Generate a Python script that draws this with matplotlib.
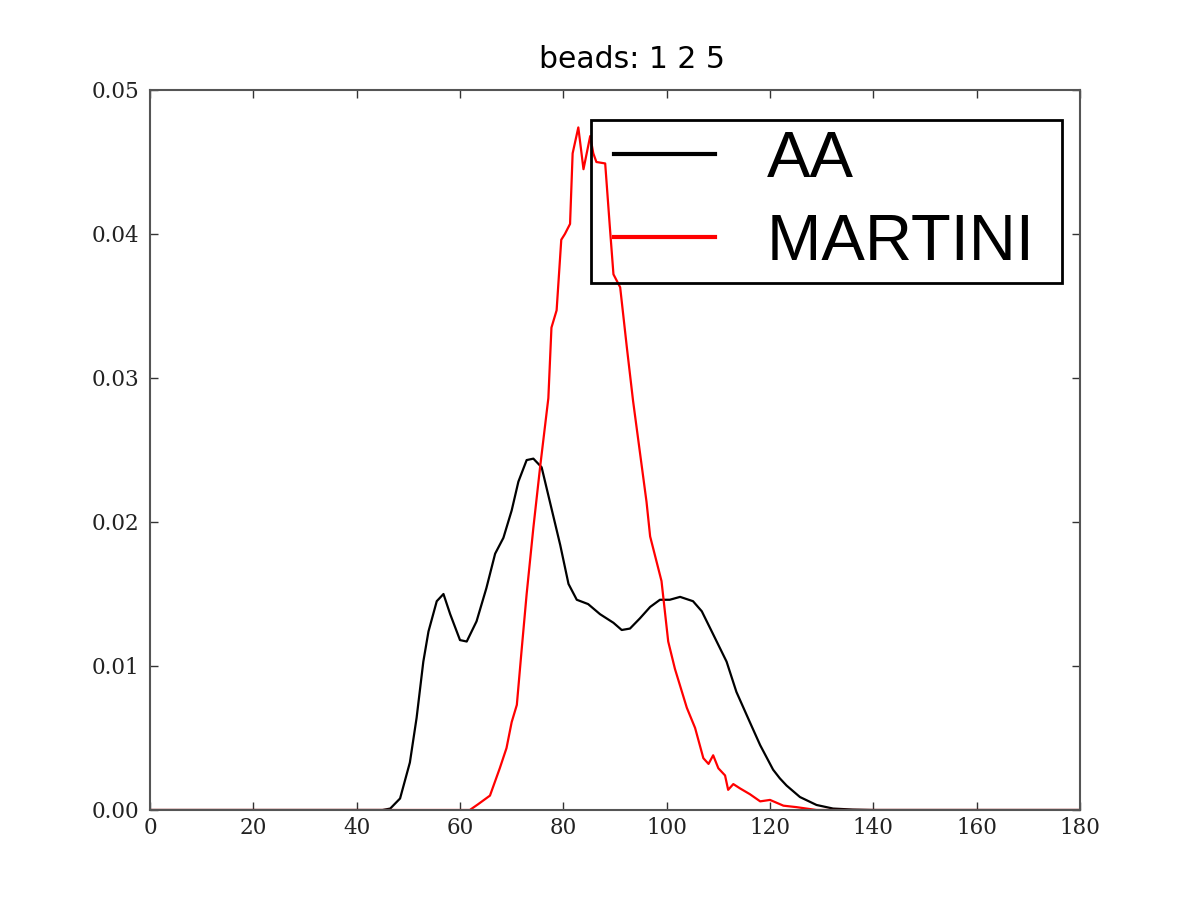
import matplotlib
matplotlib.use("Agg")
import matplotlib.pyplot as plt
from matplotlib.legend_handler import HandlerLine2D

# AA distribution
aa_x = [0, 45.0, 46.5, 48.4, 50.3, 51.6, 52.9, 53.9, 55.5, 56.8, 58.1, 60.0, 61.3,
        63.2, 65.1, 66.8, 68.4, 70.0, 71.3, 72.9, 74.2, 75.8, 77.4, 79.4, 81.0,
        82.6, 84.8, 87.1, 89.7, 91.3, 92.9, 94.8, 96.8, 98.7, 100.6, 102.6, 105.1,
        106.8, 109.0, 111.6, 113.5, 116.1, 118.1, 120.6, 121.9, 123.2, 125.8,
        129.0, 132.2, 136.0, 140.0, 180]
aa_y = [0, 0, 0.0001, 0.0008, 0.0033, 0.0064, 0.0103, 0.0124, 0.0145, 0.0150,
        0.0136, 0.0118, 0.0117, 0.0131, 0.0154, 0.0178, 0.0189, 0.0208, 0.0228,
        0.0243, 0.0244, 0.0238, 0.0214, 0.0184, 0.0157, 0.0146, 0.0143, 0.0136,
        0.0130, 0.0125, 0.0126, 0.0133, 0.0141, 0.0146, 0.0146, 0.0148, 0.0145,
        0.0138, 0.0122, 0.0103, 0.0082, 0.0061, 0.0045, 0.0028, 0.0022, 0.0017,
        0.0009, 0.00035, 0.0001, 0.00003, 0, 0]

# MARTINI distribution
mt_x = [0, 61.9, 63.5, 65.8, 67.7, 69.0, 70.0, 71.0, 71.9, 72.9, 74.2, 75.5, 77.1,
        77.7, 78.7, 79.6, 80.3, 81.3, 81.8, 82.9, 83.9, 85.2, 85.8, 86.4, 88.1,
        89.0, 89.7, 91.0, 92.3, 93.5, 96.1, 96.8, 99.0, 100.3, 101.6, 103.9, 105.5,
        107.1, 108.1, 109.0, 110.0, 111.3, 111.9, 112.9, 114.2, 116.1, 118.1,
        120.0, 122.6, 125.1, 129.0, 180]
mt_y = [0, 0, 0.0004, 0.0010, 0.0029, 0.0043, 0.0061, 0.0073, 0.0110, 0.0150,
        0.0196, 0.0238, 0.0286, 0.0335, 0.0347, 0.0396, 0.0400, 0.0407, 0.0456,
        0.0474, 0.0445, 0.0468, 0.0456, 0.0450, 0.0449, 0.0405, 0.0372, 0.0363,
        0.0321, 0.0284, 0.0214, 0.0190, 0.0159, 0.0117, 0.0098, 0.0071, 0.0057,
        0.0036, 0.0032, 0.0038, 0.0029, 0.0024, 0.0014, 0.0018, 0.0015, 0.0011,
        0.0006, 0.0007, 0.0003, 0.0002, 0, 0]

labels = ["AA", "MARTINI "]
title = "beads: 1 2 5"
xticks = [0, 20, 40, 60, 80, 100, 120, 140, 160, 180]
yticks = [0.00, 0.01, 0.02, 0.03, 0.04, 0.05]

fig = plt.figure(figsize=(12, 9), dpi=100)
ax = fig.add_axes([0.125, 0.1, 0.775, 0.8])

l1, = ax.plot(aa_x, aa_y, color="black", lw=1.6, label=labels[0])
l2, = ax.plot(mt_x, mt_y, color="red", lw=1.6, label=labels[1])

ax.set_xlim(0, 180)
ax.set_ylim(0, 0.05)
ax.set_xticks(xticks)
ax.set_yticks(yticks)
ax.set_yticklabels([f"{v:.2f}" for v in yticks])
ax.tick_params(direction="in", top=True, right=True, length=6, width=1,
               labelsize=15.5, colors="#333333", labelcolor="#222222")
ax.tick_params(axis="x", pad=5)
ax.tick_params(axis="y", pad=8)
for lab in ax.get_xticklabels() + ax.get_yticklabels():
    lab.set_family("DejaVu Serif")
for s in ax.spines.values():
    s.set_color("#555555")
    s.set_linewidth(1.5)

ax.set_title(title, fontsize=21.5, family="DejaVu Sans", x=0.518, pad=16)

hm = {l1: HandlerLine2D(xpad=0.21), l2: HandlerLine2D(xpad=0.21)}
leg = ax.legend(loc="upper right", bbox_to_anchor=(0.9806, 0.958),
                borderaxespad=0, prop={"family": "Liberation Sans", "size": 47},
                handlelength=1.75, handletextpad=0.8, borderpad=0.15,
                labelspacing=0.35, fancybox=False, framealpha=1, handler_map=hm)
leg.get_frame().set_facecolor("none")
leg.get_frame().set_edgecolor("black")
leg.get_frame().set_linewidth(2)
for h in leg.get_lines():
    h.set_linewidth(3)

fig.savefig("out.png", dpi=100)
